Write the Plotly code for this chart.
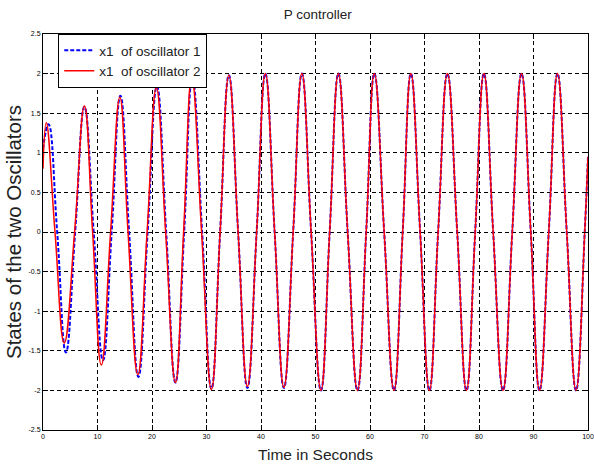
import plotly.graph_objects as go

# Extremes and zero crossings of x1 for each oscillator (time in s, state value)
t_osc1 = [0.0, 1.0, 2.6, 4.2, 5.9, 7.6, 9.3, 11.0, 12.6, 14.2, 15.8, 17.5, 19.2,
          20.9, 22.6, 24.3, 25.9, 27.4, 29.2, 30.9, 32.5, 34.1, 35.8, 37.5, 39.2,
          40.8, 42.5, 44.2, 45.9, 47.5, 49.2, 51.0, 52.6, 54.2, 55.9, 57.7, 59.3,
          60.8, 62.6, 64.4, 66.0, 67.5, 69.2, 70.9, 72.5, 74.2, 76.0, 77.7, 79.3,
          80.9, 82.6, 84.4, 86.1, 87.8, 89.5, 91.1, 92.8, 94.4, 96.1, 97.8, 99.4,
          100.0]
x_osc1 = [1.05, 1.36, 0.0, -1.52, 0.0, 1.58, 0.0, -1.62, 0.0, 1.72, 0.0, -1.83, 0.0,
          1.84, 0.0, -1.90, 0.0, 1.95, 0.0, -1.98, 0.0, 1.98, 0.0, -1.97, 0.0,
          2.0, 0.0, -1.97, 0.0, 2.0, 0.0, -2.0, 0.0, 2.0, 0.0, -2.0, 0.0,
          2.0, 0.0, -2.0, 0.0, 2.0, 0.0, -2.0, 0.0, 2.0, 0.0, -2.0, 0.0,
          2.0, 0.0, -2.0, 0.0, 2.0, 0.0, -2.0, 0.0, 2.0, 0.0, -2.0, 0.0,
          0.95]

t_osc2 = [0.0, 0.6, 2.2, 3.9, 5.8, 7.6, 9.1, 10.7, 12.4, 14.1, 15.6, 17.4, 19.1,
          20.8, 22.5, 24.3, 25.8, 27.3, 29.1, 30.9, 32.5, 34.1, 35.8, 37.5, 39.2,
          40.8, 42.5, 44.2, 45.9, 47.5, 49.2, 51.0, 52.6, 54.2, 55.9, 57.7, 59.3,
          60.8, 62.6, 64.4, 66.0, 67.5, 69.2, 70.9, 72.5, 74.2, 76.0, 77.7, 79.3,
          80.9, 82.6, 84.4, 86.1, 87.8, 89.5, 91.1, 92.8, 94.4, 96.1, 97.8, 99.4,
          100.0]
x_osc2 = [0.8, 1.38, 0.0, -1.40, 0.0, 1.59, 0.0, -1.68, 0.0, 1.70, 0.0, -1.80, 0.0,
          1.82, 0.0, -1.90, 0.0, 1.95, 0.0, -1.99, 0.0, 1.98, 0.0, -1.95, 0.0,
          2.0, 0.0, -1.96, 0.0, 2.0, 0.0, -2.0, 0.0, 2.0, 0.0, -2.0, 0.0,
          2.0, 0.0, -2.0, 0.0, 2.0, 0.0, -2.0, 0.0, 2.0, 0.0, -2.0, 0.0,
          2.0, 0.0, -2.0, 0.0, 2.0, 0.0, -2.0, 0.0, 2.0, 0.0, -2.0, 0.0,
          0.95]

x_ticks = [0, 10, 20, 30, 40, 50, 60, 70, 80, 90, 100]
y_ticks = [2.5, 2, 1.5, 1, 0.5, 0, -0.5, -1, -1.5, -2, -2.5]

SANS = "Liberation Sans, Arial, sans-serif"

fig = go.Figure()
fig.add_trace(go.Scatter(
    x=t_osc1, y=x_osc1, mode="lines", name="x1  of oscillator 1",
    line=dict(color="#0000ff", width=2, dash="4px,2px", shape="spline", smoothing=1.3),
    legendrank=1,
))
fig.add_trace(go.Scatter(
    x=t_osc2, y=x_osc2, mode="lines", name="x1  of oscillator 2",
    line=dict(color="#ff0000", width=1.5, shape="spline", smoothing=1.3),
    legendrank=2,
))

axis_common = dict(
    showline=True, linecolor="black", linewidth=1, mirror="ticks",
    ticks="inside", ticklen=5, tickcolor="black",
    showgrid=True, gridcolor="black", gridwidth=1, griddash="4px,3px",
    zeroline=False, ticklabeloverflow="allow", automargin=False,
    tickfont=dict(family=SANS, size=7, color="black"),
)

fig.update_layout(
    width=594, height=466,
    margin=dict(l=43, r=6, t=34, b=36),
    paper_bgcolor="white", plot_bgcolor="white",
    title=dict(text="P controller", x=0.535, xanchor="center", y=0.97, yanchor="middle",
               font=dict(family=SANS, size=13.5, color="#222222")),
    xaxis=dict(range=[0, 100], tickvals=x_ticks, ticktext=[str(v) for v in x_ticks],
               title=dict(text="Time in Seconds", standoff=9,
                          font=dict(family=SANS, size=15.5, color="#222222")),
               **axis_common),
    yaxis=dict(range=[-2.5, 2.5], tickvals=y_ticks, ticktext=[str(v) for v in y_ticks],
               title=dict(text="States of the two Oscillators", standoff=1,
                          font=dict(family=SANS, size=20.5, color="#222222")),
               **axis_common),
    legend=dict(x=0.028, y=1.0, xanchor="left", yanchor="top",
                bgcolor="white", bordercolor="black", borderwidth=1,
                font=dict(family=SANS, size=13.5, color="#222222"),
                tracegroupgap=0, itemwidth=30),
    showlegend=True,
)

fig.write_html("out.html")
